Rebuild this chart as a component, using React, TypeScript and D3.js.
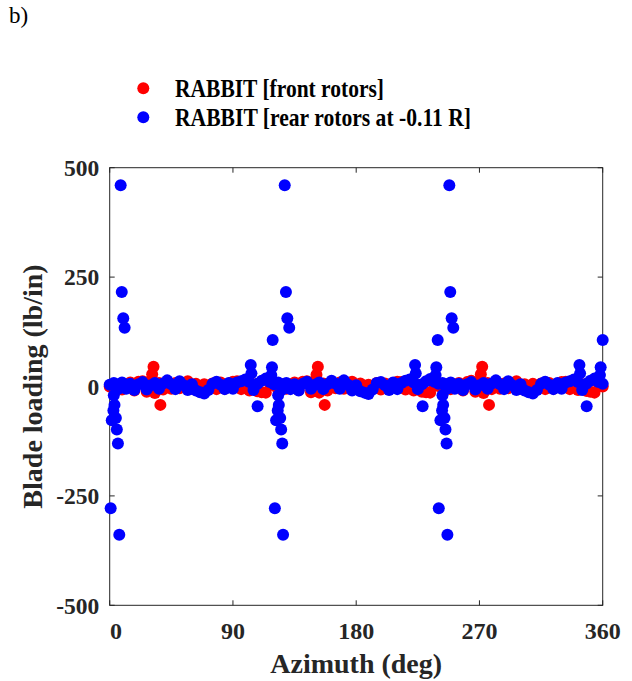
import React from "react";
import * as d3 from "d3";

// Azimuth grid (deg) for the base band of each series
const azimuthGrid: number[] = d3.range(0, 361, 3);

// RABBIT [front rotors] – base band values (lb/in)
const frontBand: number[] = [
  0, -5, 3, -7, 5, 9, -9, 11, 12, -12, 13, -15, 8, -7, 6, -5, 8, -4, 7, 12,
  -5, 6, -8, 5, -4, 7, -6, 9, -5, 7, 11, 12, -6, 7, -9, 5, -11, -13, -14, 6,
  2, -6, 5, -5, 4, 9, -8, 11, 12, -13, 13, -14, 7, -9, 5, -4, 9, -5, 6, 11,
  -4, 7, -6, 4, -5, 8, -7, 7, -4, 8, 11, 10, -7, 6, -9, 4, -12, -13, -14, 5,
  1, -4, 5, -6, 4, 8, -9, 10, 13, -12, 12, -15, 8, -6, 7, -5, 7, -4, 8, 12,
  -5, 5, -7, 6, -4, 7, -6, 8, -5, 6, 10, 11, -6, 7, -8, 5, -10, -12, -14, 6,
  0,
];

// RABBIT [rear rotors at -0.11 R] – base band values (lb/in)
const rearBand: number[] = [
  4, 8, -6, 9, -5, 6, -8, 5, 10, -7, 3, 8, -5, 7, 14, 5, -6, 12, 3, -8,
  5, -9, -13, -16, -8, 6, 11, 4, -6, 8, -5, 9, 12, 16, 10, -8, 6, 13, 18, 10,
  5, 9, -7, 8, -6, 5, -9, 6, 11, -5, 4, 9, -6, 5, 13, 6, -5, 14, 4, -9,
  3, -11, -14, -17, -7, 8, 10, 3, -8, 9, -6, 8, 13, 16, 9, -6, 5, 12, 17, 11,
  6, 8, -6, 9, -5, 6, -8, 5, 10, -7, 3, 8, -5, 7, 14, 5, -6, 12, 3, -8,
  5, -9, -13, -16, -8, 6, 11, 4, -6, 8, -5, 9, 12, 16, 10, -8, 6, 13, 18, 10,
  6,
];

// Front-rotor excursions
const frontSpikeAz: number[] = [31, 32, 37, 151, 152, 157, 271, 272, 277];
const frontSpikeVal: number[] = [28, 45, -42, 27, 45, -42, 28, 45, -42];

// Rear-rotor excursions
const rearSpikeAz: number[] = [
  0.7, 7, 1.5, 2.7, 3.5, 4.5, 5.2, 6.0, 3.0, 8, 8.8, 9.9, 10.9,
  103, 103.5, 108, 118.5, 118, 119,
  120.6, 126.6, 121.5, 122.7, 123.5, 124.5, 125.2, 126.0, 123.0, 127.8, 128.7, 129.7, 131.1,
  223, 223.5, 228.5, 238.5, 238, 239.5,
  240.3, 246.6, 241.5, 242.7, 243.5, 244.5, 245.2, 246.0, 243.0, 248, 248.7, 249.7, 250.9,
  343, 343.5, 348.3, 358.5, 358, 360,
];
const rearSpikeVal: number[] = [
  -278, -339, -77, -55, -42, -72, -98, -130, -20, 460, 216, 156, 134,
  49, 30, -45, 44, 26, 106,
  -278, -339, -77, -55, -42, -72, -98, -130, -20, 460, 216, 156, 134,
  49, 30, -45, 44, 26, 106,
  -278, -339, -77, -55, -42, -72, -98, -130, -20, 460, 216, 156, 134,
  49, 30, -45, 44, 26, 106,
];

const xTicks: number[] = [0, 90, 180, 270, 360];
const yTicks: number[] = [-500, -250, 0, 250, 500];
const legendLabels: string[] = ["RABBIT [front rotors]", "RABBIT [rear rotors at -0.11 R]"];
const seriesColors: string[] = ["#ff0000", "#0000ff"];

const W = 632;
const H = 681;
const M = { left: 109.7, right: 602.7, top: 167.7, bottom: 605.3 };
const AX = "#262626";
const FONT = "'Liberation Serif', 'Times New Roman', Times, serif";

export default function App() {
  const x = d3.scaleLinear().domain([0, 360]).range([M.left, M.right]);
  const y = d3.scaleLinear().domain([-500, 500]).range([M.bottom, M.top]);
  const r = 6;
  const tick = 5;

  const front = azimuthGrid.map((a, i) => ({ a, v: frontBand[i] }))
    .concat(frontSpikeAz.map((a, i) => ({ a, v: frontSpikeVal[i] })));
  const rear = azimuthGrid.map((a, i) => ({ a, v: rearBand[i] }))
    .concat(rearSpikeAz.map((a, i) => ({ a, v: rearSpikeVal[i] })));

  return (
    <svg width={W} height={H} style={{ position: "absolute", left: 0, top: 0, background: "#fff" }}
      fontFamily={FONT}>
      <rect x={0} y={0} width={W} height={H} fill="#fff" />
      <text x={9} y={23} fontSize={23} fill="#000">b)</text>

      {/* legend */}
      {legendLabels.map((lab, i) => (
        <g key={lab}>
          <circle cx={143.3} cy={88.3 + i * 29} r={6} fill={seriesColors[i]} />
          <text x={175} y={97.3 + i * 29} fontSize={24.5} fontWeight="bold" fill="#000"
            textLength={i === 0 ? 209 : 296} lengthAdjust="spacingAndGlyphs">{lab}</text>
        </g>
      ))}

      {/* axes box */}
      <rect x={M.left} y={M.top} width={M.right - M.left} height={M.bottom - M.top}
        fill="none" stroke={AX} strokeWidth={1} />
      {xTicks.map((t) => (
        <g key={"xt" + t}>
          <line x1={x(t)} x2={x(t)} y1={M.bottom} y2={M.bottom - tick} stroke={AX} />
          <line x1={x(t)} x2={x(t)} y1={M.top} y2={M.top + tick} stroke={AX} />
          <text x={x(t) + (t === 0 ? 6.3 : 0)} y={639.3} fontSize={24} fontWeight="bold"
            textAnchor="middle" fill={AX}>{t}</text>
        </g>
      ))}
      {yTicks.map((t) => (
        <g key={"yt" + t}>
          <line x1={M.left} x2={M.left + tick} y1={y(t)} y2={y(t)} stroke={AX} />
          <line x1={M.right} x2={M.right - tick} y1={y(t)} y2={y(t)} stroke={AX} />
          <text x={99.3} y={y(t)} dy="0.35em" fontSize={23.5} fontWeight="bold"
            textAnchor="end" fill={AX}>{t}</text>
        </g>
      ))}

      {/* data */}
      <g>
        {front.map((d, i) => (
          <circle key={"f" + i} cx={x(d.a)} cy={y(d.v)} r={r} fill={seriesColors[0]} />
        ))}
      </g>
      <g>
        {rear.map((d, i) => (
          <circle key={"b" + i} cx={x(d.a)} cy={y(d.v)} r={r} fill={seriesColors[1]} />
        ))}
      </g>

      {/* axis labels */}
      <text x={(M.left + M.right) / 2} y={673} fontSize={28} fontWeight="bold"
        textAnchor="middle" fill={AX}>Azimuth (deg)</text>
      <text transform={`translate(42, ${(M.top + M.bottom) / 2}) rotate(-90)`} fontSize={28}
        fontWeight="bold" textAnchor="middle" fill={AX}>Blade loading (lb/in)</text>
    </svg>
  );
}
